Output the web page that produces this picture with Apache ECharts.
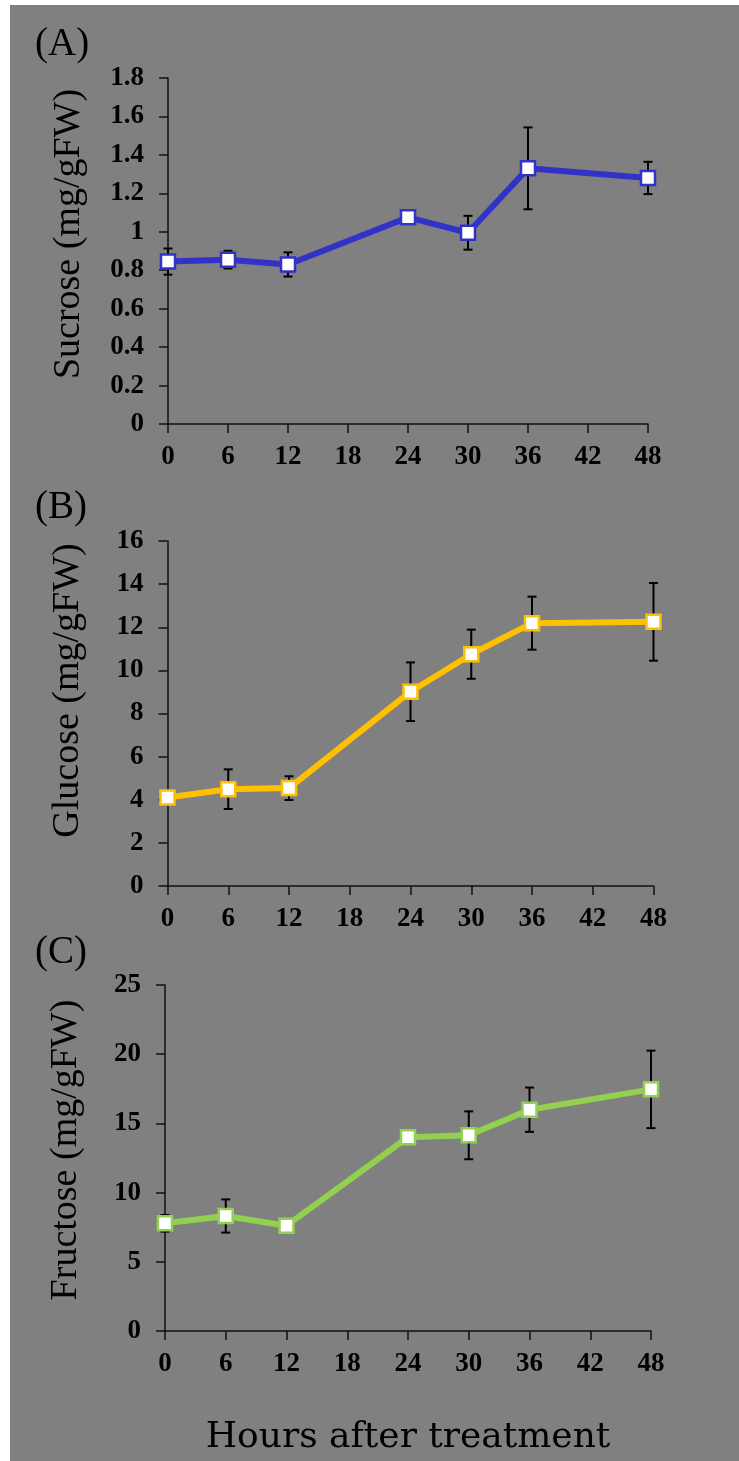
<!DOCTYPE html>
<html>
<head>
<meta charset="utf-8">
<script src="https://cdn.jsdelivr.net/npm/echarts@6/dist/echarts.min.js"></script>
<style>
html, body { margin: 0; padding: 0; background: #fff; }
#cn { position: absolute; left: 10px; top: 5px; width: 729px; height: 1456px; }
</style>
</head>
<body>
<div id="cn"></div>
<script>
'use strict';

// hours after treatment
const hours = [0, 6, 12, 24, 30, 36, 48];

// values (mg/gFW), error = half the bar
const sucrose = [0.845, 0.855, 0.83, 1.075, 0.995, 1.33, 1.28];
const sucroseErr = [0.068, 0.046, 0.063, 0.02, 0.088, 0.213, 0.084];
const glucose = [4.10, 4.49, 4.54, 9.01, 10.75, 12.19, 12.25];
const glucoseErr = [0.1, 0.92, 0.55, 1.36, 1.14, 1.23, 1.8];
const fructose = [7.78, 8.31, 7.61, 14.0, 14.14, 15.99, 17.46];
const fructoseErr = [0.6, 1.2, 0.2, 0.3, 1.73, 1.6, 2.8];

const panelLabels = ['(A)', '(B)', '(C)'];
const yNames = ['Sucrose (mg/gFW)', 'Glucose (mg/gFW)', 'Fructose (mg/gFW)'];
const yMax = [1.8, 16, 25];
const yStep = [0.2, 2, 5];
const lineColors = ['#3232c8', '#ffc000', '#92d050'];

const serif = 'Liberation Serif';

const grids = [
    { left: 158, top: 73, width: 480, height: 346 },
    { left: 157.5, top: 536, width: 486, height: 345 },
    { left: 155, top: 980, width: 486, height: 346 }
];
const namePad = [34, 46, 16];
const labelY = [42, 505, 950];

const axisLine = { show: true, lineStyle: { color: '#111', width: 1.5 } };
const axisTick = { show: true, length: 9, lineStyle: { color: '#111', width: 1.5 } };
const tickFont = { fontFamily: serif, fontWeight: 'bold', fontSize: 27, color: '#000' };

const makeBars = (vals, errs) => hours.map((h, i) => [h, vals[i] - errs[i], vals[i] + errs[i]]);

const errorBar = (params, api) => {
    const x = api.value(0);
    const lo = api.coord([x, api.value(1)]);
    const hi = api.coord([x, api.value(2)]);
    const w = 4.5;
    const style = { stroke: '#000', lineWidth: 2 };
    return {
        type: 'group',
        children: [
            { type: 'line', shape: { x1: lo[0], y1: lo[1], x2: hi[0], y2: hi[1] }, style: style },
            { type: 'line', shape: { x1: lo[0] - w, y1: lo[1], x2: lo[0] + w, y2: lo[1] }, style: style },
            { type: 'line', shape: { x1: hi[0] - w, y1: hi[1], x2: hi[0] + w, y2: hi[1] }, style: style }
        ]
    };
};

const valuesList = [sucrose, glucose, fructose];
const errList = [sucroseErr, glucoseErr, fructoseErr];

const option = {
    backgroundColor: '#808080',
    animation: false,
    grid: grids,
    xAxis: grids.map((g, i) => ({
        type: 'value',
        gridIndex: i,
        min: 0,
        max: 48,
        interval: 6,
        axisLine: axisLine,
        axisTick: axisTick,
        splitLine: { show: false },
        axisLabel: Object.assign({ margin: 20 }, tickFont),
        name: i === 2 ? 'Hours after treatment' : '',
        nameLocation: 'middle',
        nameGap: 89,
        nameTextStyle: { fontFamily: 'DejaVu Serif', fontSize: 36, color: '#000' }
    })),
    yAxis: grids.map((g, i) => ({
        type: 'value',
        gridIndex: i,
        min: 0,
        max: yMax[i],
        interval: yStep[i],
        axisLine: axisLine,
        axisTick: axisTick,
        splitLine: { show: false },
        axisLabel: Object.assign({ margin: 24 }, tickFont),
        name: yNames[i],
        nameLocation: 'middle',
        nameGap: 80,
        nameTextStyle: { fontFamily: serif, fontSize: 38, color: '#000', padding: [0, 0, 0, namePad[i]] }
    })),
    graphic: panelLabels.map((t, i) => ({
        type: 'text',
        left: 25,
        top: labelY[i] - 22,
        style: { text: t, fontFamily: serif, fontSize: 39, fill: '#000' }
    })),
    series: []
};

valuesList.forEach((vals, i) => {
    option.series.push({
        type: 'custom',
        xAxisIndex: i,
        yAxisIndex: i,
        z: 1,
        renderItem: errorBar,
        data: makeBars(vals, errList[i])
    });
    option.series.push({
        type: 'line',
        xAxisIndex: i,
        yAxisIndex: i,
        z: 3,
        data: hours.map((h, j) => [h, vals[j]]),
        symbol: 'rect',
        symbolSize: 14,
        lineStyle: { color: lineColors[i], width: 6 },
        itemStyle: { color: '#fff', borderColor: lineColors[i], borderWidth: 2.5 }
    });
});

const chart = echarts.init(document.getElementById('cn'));
chart.setOption(option);
</script>
</body>
</html>
